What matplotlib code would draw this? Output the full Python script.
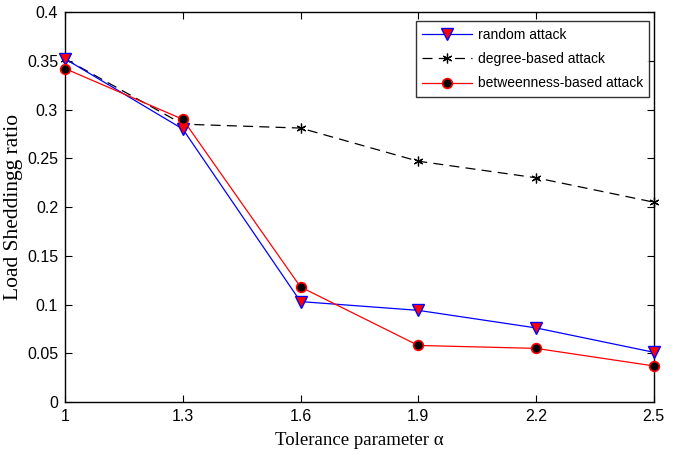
import matplotlib
matplotlib.use('Agg')
import matplotlib.pyplot as plt

alpha = [1, 1.3, 1.6, 1.9, 2.2, 2.5]
random_attack = [0.352, 0.280, 0.103, 0.094, 0.076, 0.051]
degree_attack = [0.352, 0.285, 0.281, 0.247, 0.230, 0.205]
betweenness_attack = [0.342, 0.290, 0.118, 0.058, 0.055, 0.037]

plt.rcParams['font.family'] = ['Liberation Sans', 'DejaVu Sans']

fig = plt.figure(figsize=(6.86, 4.55), dpi=100)
ax = fig.add_axes([0.0948, 0.1165, 0.8582, 0.857])

ax.plot(alpha, random_attack, color='blue', lw=0.9, marker='v', ms=8,
        mfc='red', mec='blue', mew=1.0, label='random attack', clip_on=False, zorder=3)
ax.plot(alpha, degree_attack, color='black', lw=0.9, ls=(0, (8, 5)),
        marker=(6, 2, 0), ms=7, mec='black', mew=0.9, label='degree-based attack',
        clip_on=False, zorder=2)
ax.plot(alpha, betweenness_attack, color='red', lw=0.9, marker='o', ms=7,
        mfc='black', mec='red', mew=1.2, label='betweenness-based attack',
        clip_on=False, zorder=3)

ax.set_xlim(1, 2.5)
ax.set_ylim(0, 0.4)
ax.set_xticks(alpha)
ax.set_xticklabels(['1', '1.3', '1.6', '1.9', '2.2', '2.5'])
ax.set_yticks([0, 0.05, 0.1, 0.15, 0.2, 0.25, 0.3, 0.35, 0.4])
ax.set_yticklabels(['0', '0.05', '0.1', '0.15', '0.2', '0.25', '0.3', '0.35', '0.4'])
ax.tick_params(direction='in', top=True, right=True, length=5, labelsize=11.5, pad=5)
for s in ax.spines.values():
    s.set_linewidth(1.0)

ax.set_xlabel('Tolerance parameter α', family=['Liberation Serif', 'DejaVu Serif'], fontsize=13.5, labelpad=6)
ax.set_ylabel('Load Sheddingg ratio', family=['Liberation Serif', 'DejaVu Serif'], fontsize=15.5, labelpad=3)

leg = ax.legend(loc='upper right', bbox_to_anchor=(0.992, 0.976), fontsize=10, frameon=True,
                fancybox=False, edgecolor='black', handlelength=3.6, borderpad=0.45,
                handletextpad=0.4, labelspacing=0.75, borderaxespad=0)
leg.get_frame().set_linewidth(1.0)

fig.savefig('out.png', dpi=100)
